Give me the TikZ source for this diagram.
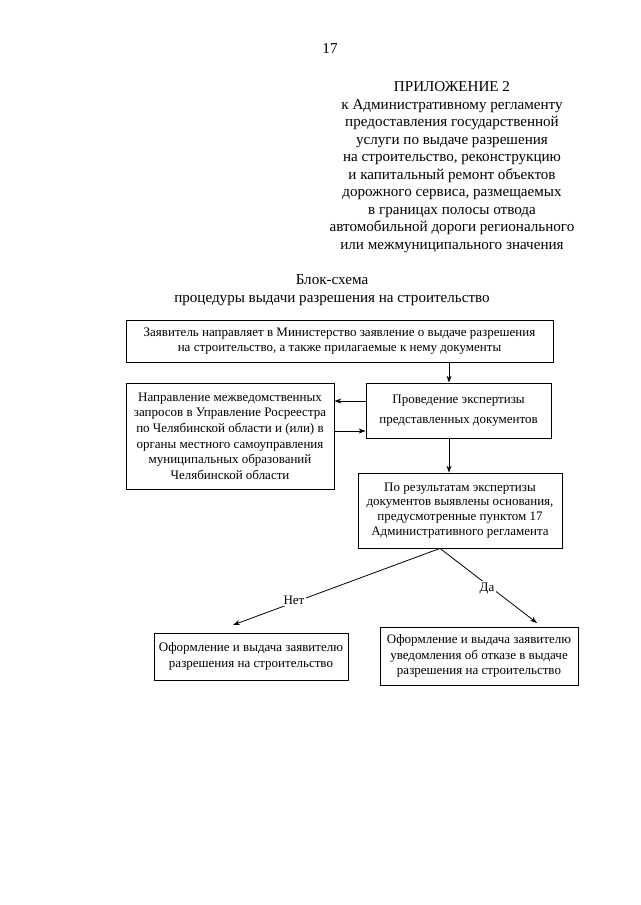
\documentclass[tikz,border=0pt]{standalone}
\usepackage{fontspec}
\setmainfont{Liberation Serif}
\usetikzlibrary{arrows.meta}
\begin{document}
\begin{tikzpicture}[x=1pt,y=-1pt,
  box/.style={draw, line width=0.8pt, align=center, inner sep=0pt,
    font=\fontsize{13}{15.6}\selectfont},
  head/.style={align=center, inner sep=0pt, font=\fontsize{15.1}{17.5}\selectfont},
  arr/.style={line width=0.8pt, -{Stealth[length=7pt,width=5pt]}},
  lab/.style={fill=white, inner sep=2pt, font=\fontsize{13}{15}\selectfont}]
\useasboundingbox (0,0) rectangle (640,905);

\node[head] (pg) at (330,49) {17};
\node[head] (app) at (452,167) {ПРИЛОЖЕНИЕ 2\\к Административному регламенту\\предоставления государственной\\услуги по выдаче разрешения\\на строительство, реконструкцию\\и капитальный ремонт объектов\\дорожного сервиса, размещаемых\\в границах полосы отвода\\автомобильной дороги регионального\\или межмуниципального значения};
\node[head] (title) at (332,290) {Блок-схема\\процедуры выдачи разрешения на строительство};

\node[box, minimum width=427pt, minimum height=42pt] (b1) at (339.5,341)
  {Заявитель направляет в Министерство заявление о выдаче разрешения\\на строительство, а также прилагаемые к нему документы};
\node[box, minimum width=185pt, minimum height=55pt, font=\fontsize{13}{19.5}\selectfont] (b2) at (458.5,410.5)
  {Проведение экспертизы\\представленных документов};
\node[box, minimum width=208pt, minimum height=106pt] (bl) at (230,436)
  {Направление межведомственных\\запросов в Управление Росреестра\\по Челябинской области и (или) в\\органы местного самоуправления\\муниципальных образований\\Челябинской области};
\node[box, minimum width=204pt, minimum height=75pt, font=\fontsize{13}{14.8}\selectfont] (b3) at (460,510.5)
  {По результатам экспертизы\\документов выявлены основания,\\предусмотренные пунктом 17\\Административного регламента};
\node[box, minimum width=194pt, minimum height=47pt] (bno) at (251,656.5)
  {Оформление и выдача заявителю\\разрешения на строительство};
\node[box, minimum width=198pt, minimum height=58pt] (byes) at (479,656)
  {Оформление и выдача заявителю\\уведомления об отказе в выдаче\\разрешения на строительство};

\coordinate (vx) at (449,0);
\coordinate (h1) at (0,401);
\coordinate (h2) at (0,431);
\coordinate (apx) at (440,0);
\coordinate (tno) at (233,625);
\coordinate (tyes) at (537,623);

\draw[arr] (b1.south -| vx) -- (b2.north -| vx);
\draw[arr] (b2.west |- h1) -- (bl.east |- h1);
\draw[arr] (bl.east |- h2) -- (b2.west |- h2);
\draw[arr] (b2.south -| vx) -- (b3.north -| vx);

\draw[arr] (b3.south -| apx) -- (tno);
\draw[arr] (b3.south -| apx) -- (tyes);
\node[lab] (no) at (294,600) {Нет};
\node[lab] (yes) at (487,589) {Да};
\end{tikzpicture}
\end{document}
